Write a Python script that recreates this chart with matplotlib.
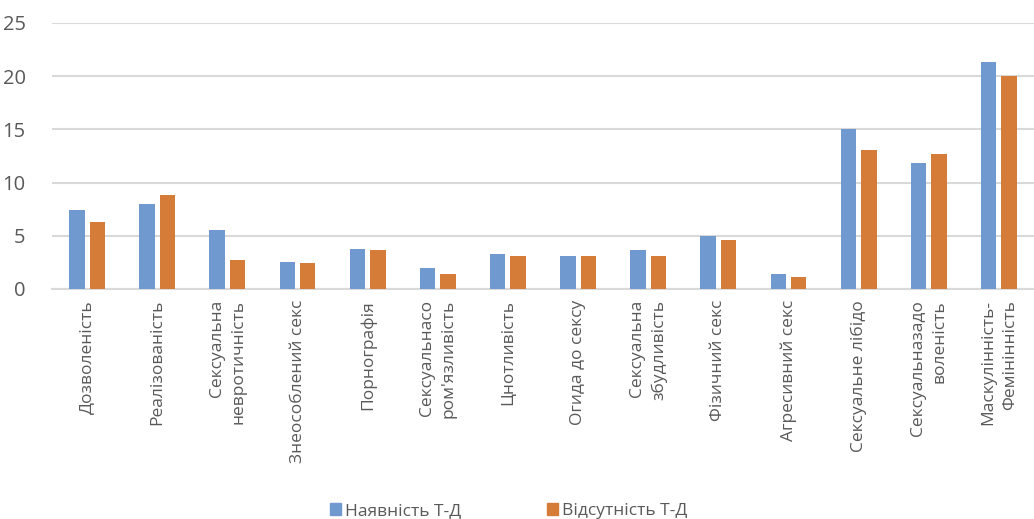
import matplotlib
matplotlib.use("Agg")
import matplotlib.pyplot as plt
from matplotlib.patches import Patch
import numpy as np

plt.rcParams['font.family'] = ['Open Sans', 'DejaVu Sans']

categories = [
    "Дозволеність",
    "Реалізованість",
    "Сексуальна\nневротичність",
    "Знеособлений секс",
    "Порнографія",
    "Сексуальнасо\nром'язливість",
    "Цнотливість",
    "Огида до сексу",
    "Сексуальна\nзбудливість",
    "Фізичний секс",
    "Агресивний секс",
    "Сексуальне лібідо",
    "Сексуальназадо\nволеність",
    "Маскулінність-\nФемінінність",
]
present_td = [7.4, 8.0, 5.5, 2.5, 3.75, 1.95, 3.3, 3.1, 3.7, 5.0, 1.4, 15.0, 11.8, 21.3]
absent_td = [6.3, 8.8, 2.7, 2.4, 3.7, 1.4, 3.1, 3.1, 3.1, 4.6, 1.15, 13.1, 12.7, 20.0]
series_names = ["Наявність Т-Д", "Відсутність Т-Д"]
y_ticks = [0, 5, 10, 15, 20, 25]

blue = "#7099cf"
orange = "#d57c39"
grid_c = "#d9d9d9"
text_c = "#595959"

fig = plt.figure(figsize=(10.34, 5.19), dpi=100)
ax = fig.add_axes([52 / 1034, 1 - 289 / 519, 1 - 52 / 1034, (289 - 23) / 519])

x = np.arange(len(categories))
w = 0.22
off = 0.145
ax.bar(x - off, present_td, width=w, color=blue, zorder=3)
ax.bar(x + off, absent_td, width=w, color=orange, zorder=3)

ax.set_xlim(-0.5, len(categories) - 0.5)
ax.set_ylim(0, 25)
ax.set_yticks(y_ticks)
ax.set_yticklabels([str(t) for t in y_ticks])
ax.yaxis.grid(True, color=grid_c, linewidth=1.5, zorder=0)
ax.set_axisbelow(True)
for s in ["left", "right", "top"]:
    ax.spines[s].set_visible(False)
ax.spines["bottom"].set_color(grid_c)
ax.spines["bottom"].set_linewidth(1.5)
ax.tick_params(axis="y", length=0, pad=19, labelsize=14.5, labelcolor=text_c)
ax.tick_params(axis="x", length=0, pad=8, labelsize=12.5, labelcolor=text_c)
ax.set_xticks(x)
ax.set_xticklabels(categories, rotation=90, va="top", ha="center",
                   multialignment="right", linespacing=1.45)

handles = [Patch(color=blue), Patch(color=orange)]
fig.legend(handles, series_names, loc="center", bbox_to_anchor=(0.492, 1 - 511 / 519),
           ncol=2, frameon=False, fontsize=12.5, labelcolor=text_c,
           handlelength=0.65, handleheight=0.65, handletextpad=0.25, columnspacing=4.9)

fig.savefig("out.png", dpi=100)
